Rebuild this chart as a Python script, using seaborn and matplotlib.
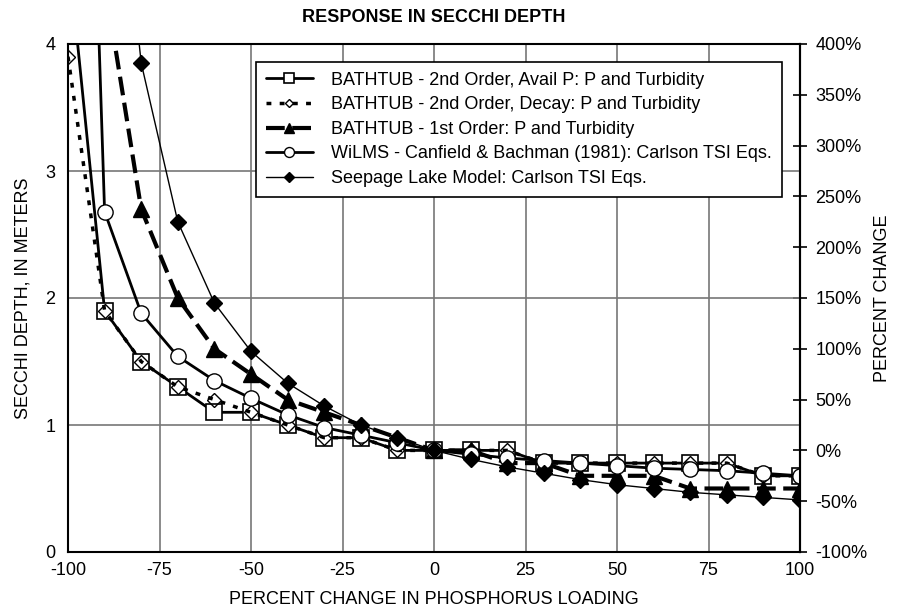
import numpy as np
import pandas as pd
import seaborn as sns
import matplotlib.pyplot as plt
from matplotlib.ticker import FuncFormatter

# percent change in phosphorus loading
pct_load = [-100, -90, -80, -70, -60, -50, -40, -30, -20, -10, 0,
            10, 20, 30, 40, 50, 60, 70, 80, 90, 100]

# secchi depth (m)
bt2_avail = [4.75, 1.9, 1.5, 1.3, 1.1, 1.1, 1.0, 0.9, 0.9, 0.8, 0.8,
             0.8, 0.8, 0.7, 0.7, 0.7, 0.7, 0.7, 0.7, 0.6, 0.6]
bt2_decay = [3.9, 1.9, 1.5, 1.3, 1.2, 1.1, 1.0, 0.9, 0.9, 0.8, 0.8,
             0.8, 0.8, 0.7, 0.7, 0.7, 0.7, 0.7, 0.7, 0.6, 0.6]
bt1 = [None, 4.5, 2.7, 2.0, 1.6, 1.4, 1.2, 1.1, 1.0, 0.9, 0.8,
       0.8, 0.7, 0.7, 0.6, 0.6, 0.6, 0.5, 0.5, 0.5, 0.5]
wilms = [11.5, 2.68, 1.88, 1.54, 1.35, 1.21, 1.08, 0.98, 0.92, 0.86, 0.8,
         0.77, 0.74, 0.72, 0.7, 0.68, 0.66, 0.65, 0.64, 0.62, 0.6]
seepage = [None, 6.6, 3.85, 2.6, 1.96, 1.58, 1.33, 1.15, 1.0, 0.9, 0.8,
           0.73, 0.67, 0.62, 0.57, 0.53, 0.5, 0.47, 0.45, 0.43, 0.41]

labels = ["BATHTUB - 2nd Order, Avail P: P and Turbidity",
          "BATHTUB - 2nd Order, Decay: P and Turbidity",
          "BATHTUB - 1st Order: P and Turbidity",
          "WiLMS - Canfield & Bachman (1981): Carlson TSI Eqs.",
          "Seepage Lake Model: Carlson TSI Eqs."]

base_depth = 0.8  # depth at 0 % change

sns.set_style("white")
plt.rcParams['font.family'] = ['Liberation Sans', 'DejaVu Sans']
plt.rcParams['font.size'] = 13
plt.rcParams['axes.unicode_minus'] = False
plt.rcParams['text.color'] = 'black'
plt.rcParams['axes.labelcolor'] = 'black'
plt.rcParams['xtick.color'] = 'black'
plt.rcParams['ytick.color'] = 'black'

fig = plt.figure(figsize=(9.02, 6.10), dpi=100)
ax = fig.add_axes([68/902, 1-552/610, 732/902, 508/610])

styles = [
    dict(marker='s', ms=12, mfc='white', mec='black', mew=1.2, lw=2.0, ls='-'),
    dict(marker='D', ms=7, mfc='none', mec='black', mew=1.0, lw=2.5, ls=(0, (1.4, 2.4))),
    dict(marker='^', ms=12, mfc='black', mec='black', lw=3.0, ls=(0, (4.5, 1.8))),
    dict(marker='o', ms=11, mfc='white', mec='black', mew=1.0, lw=2.0, ls='-'),
    dict(marker='D', ms=8.5, mfc='black', mec='black', lw=1.0, ls='-'),
]

for vals, lab, st in zip([bt2_avail, bt2_decay, bt1, wilms, seepage], labels, styles):
    df = pd.DataFrame({"x": pct_load, "y": vals}).dropna()
    sns.lineplot(data=df, x="x", y="y", ax=ax, color='black', label=lab,
                 markerfacecolor=st['mfc'], markeredgecolor=st['mec'],
                 markeredgewidth=st.get('mew', 1.0), marker=st['marker'],
                 markersize=st['ms'], linewidth=st['lw'], linestyle=st['ls'],
                 estimator=None, sort=False)

ax.set_xlim(-100, 100)
ax.set_ylim(0, 4)
ax.set_xticks(np.arange(-100, 101, 25))
ax.set_yticks([0, 1, 2, 3, 4])
ax.grid(True, color='#777777', linewidth=1.2)
ax.tick_params(axis='x', labelsize=13, length=0, pad=7)
ax.tick_params(axis='y', labelsize=13, length=0, pad=9)
for s in ax.spines.values():
    s.set_color('black')
    s.set_linewidth(1.5)
ax.set_xlabel("PERCENT CHANGE IN PHOSPHORUS LOADING", fontsize=13, labelpad=9)
ax.set_ylabel("SECCHI DEPTH, IN METERS", fontsize=13, labelpad=10)
ax.set_title("RESPONSE IN SECCHI DEPTH", fontsize=13, fontweight='bold', pad=16)

ax2 = ax.twinx()
ax2.set_ylim((0/base_depth - 1)*100, (4/base_depth - 1)*100)
ax2.set_yticks(np.arange(-100, 401, 50))
ax2.yaxis.set_major_formatter(FuncFormatter(lambda v, p: f"{v:.0f}%"))
ax2.tick_params(axis='y', direction='inout', length=10, width=1.2, labelsize=13, pad=6)
ax2.set_ylabel("PERCENT CHANGE", fontsize=13, labelpad=5)
for s in ax2.spines.values():
    s.set_visible(False)
ax2.spines['right'].set_visible(True)
ax2.spines['right'].set_linewidth(1.5)
ax2.spines['right'].set_color('black')

leg = ax.legend(loc='upper right', bbox_to_anchor=(0.975, 0.965), fontsize=13,
                frameon=True, fancybox=False, edgecolor='black', handlelength=2.6,
                markerscale=0.65, borderpad=0.55, labelspacing=0.42,
                handletextpad=1.0, borderaxespad=0)
leg.get_frame().set_linewidth(1.2)
leg.get_frame().set_alpha(1)
ax.set_zorder(ax2.get_zorder() + 1)
ax.patch.set_visible(False)

fig.savefig("out.png", dpi=100)
